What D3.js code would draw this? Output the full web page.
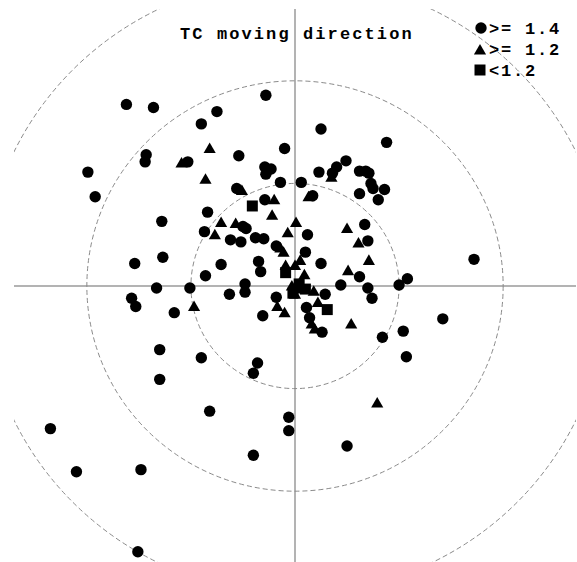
<!DOCTYPE html>
<html>
<head>
<meta charset="utf-8">
<script src="https://cdn.jsdelivr.net/npm/d3@7"></script>
<style>
  body { margin: 0; background: #fff; }
  text { font-family: "Liberation Mono", "DejaVu Sans Mono", monospace; fill: #000; }
</style>
</head>
<body>
<svg id="chart" width="577" height="562"></svg>
<script>
// Storm displacement (east, north) relative to the reference position,
// grouped by speed class.
const fastPts = [
  [-28, 186], [-162, 177], [-136, 174], [-75, 170], [-90, 158], [25, 153], [88, 140],
  [-10, 134], [-54, 127], [-143, 128], [-144, 121], [-103, 121], [49, 122], [40, 116],
  [23, 111], [-29, 116], [-23, 114], [-28, 109], [-199, 111], [62, 112], [68, 112],
  [71, 110], [36, 110], [-14, 101], [6, 101], [73, 100], [75, 95], [86, 94], [-192, 87],
  [-56, 95], [62, 90], [80, 84], [17, 88], [-29, 84], [-84, 72], [-128, 63], [-50, 58],
  [-47, 56], [67, 60], [-87, 53], [12, 50], [-62, 45], [-52, 43], [-38, 47], [-30, 46],
  [70, 44], [-18, 39], [10, 33], [25, 22], [172, 26], [-154, 22], [-127, 28], [-71, 21],
  [-35, 24], [-33, 14], [62, 9], [-86, 10], [108, 7], [100, 1], [44, 1], [70, -2],
  [74, -12], [-133, -2], [-101, -2], [-157, -12], [-153, -20], [-116, -26], [-63, -8],
  [-48, 2], [-48, -6], [-18, -11], [-31, -29], [29, -8], [11, -21], [14, -31], [26, -45],
  [142, -32], [84, -50], [104, -44], [107, -69], [-130, -62], [-90, -70], [-36, -75],
  [-40, -85], [-130, -91], [-82, -122], [-6, -128], [-6, -141], [50, -156], [-40, -165],
  [-235, -139], [-148, -179], [-210, -181], [-151, -259]
];
const mediumPts = [
  [-82, 133], [-109, 119], [-86, 103], [35, 105], [-51, 92], [13, 86], [-20, 83],
  [-22, 68], [-71, 61], [-57, 60], [1, 61], [50, 55], [-77, 49], [-7, 51], [61, 41],
  [-11, 32], [-14, 36], [71, 24], [5, 24], [0, 19], [-9, 19], [51, 14], [-97, -21],
  [-17, -21], [-10, -27], [9, 10], [-3, -1], [0, -9], [18, -6], [22, -17], [16, -38],
  [19, -43], [5, -4], [54, -38], [79, -115]
];
const slowPts = [
  [-41, 78], [31, -23], [-9, 13], [4, 2], [10, -3], [-2, -7]
];

const ringRadii = [100, 200, 300];
const legendLabels = [">= 1.4", ">= 1.2", "<1.2"];
const titleText = "TC moving direction";

const svg = d3.select("#chart");
const x = d3.scaleLinear().domain([-270, 270]).range([14, 576]);
const y = d3.scaleLinear().domain([-270, 270]).range([563, 9]);

svg.append("defs").append("clipPath").attr("id", "plotClip")
  .append("rect")
  .attr("x", x(-270)).attr("y", y(270))
  .attr("width", x(270) - x(-270)).attr("height", y(-270) - y(270));

const plot = svg.append("g").attr("clip-path", "url(#plotClip)");

// cross-hair axes through the origin
plot.append("line")
  .attr("x1", x(-270)).attr("x2", x(270))
  .attr("y1", y(0)).attr("y2", y(0))
  .attr("stroke", "#b3b3b3").attr("stroke-width", 2);
plot.append("line")
  .attr("x1", x(0)).attr("x2", x(0))
  .attr("y1", y(270)).attr("y2", y(-270))
  .attr("stroke", "#b3b3b3").attr("stroke-width", 2);

// dashed range rings
plot.selectAll("ellipse.ring").data(ringRadii).join("ellipse")
  .attr("class", "ring")
  .attr("cx", x(0)).attr("cy", y(0))
  .attr("rx", d => x(d) - x(0))
  .attr("ry", d => y(0) - y(d))
  .attr("fill", "none")
  .attr("stroke", "#8a8a8a")
  .attr("stroke-width", 1)
  .attr("stroke-dasharray", "5,3");

const circleSym = d3.symbol().type(d3.symbolCircle).size(Math.PI * 5.7 * 5.7);
const triSym = d3.symbol().type(d3.symbolTriangle).size(64);
const sqSym = d3.symbol().type(d3.symbolSquare).size(121);

const groups = [
  { pts: fastPts, sym: circleSym },
  { pts: mediumPts, sym: triSym },
  { pts: slowPts, sym: sqSym }
];

groups.forEach(g => {
  plot.append("g").selectAll("path").data(g.pts).join("path")
    .attr("d", g.sym())
    .attr("transform", d => `translate(${x(d[0])},${y(d[1])})`)
    .attr("fill", "#000");
});

// title
svg.append("text")
  .attr("x", 180).attr("y", 39)
  .attr("font-size", 17)
  .attr("font-weight", "bold")
  .attr("letter-spacing", 2.1)
  .text(titleText);

// legend
const legend = svg.append("g");
const legendSyms = [circleSym, triSym, sqSym];
legendLabels.forEach((lab, i) => {
  const ly = 28 + i * 21;
  legend.append("path")
    .attr("d", legendSyms[i]())
    .attr("transform", `translate(${481 - (i ? 1 : 0)},${ly + (i === 1 ? 2 : 0)})`)
    .attr("fill", "#000");
  legend.append("text")
    .attr("x", 489).attr("y", ly + 5.5)
    .attr("font-size", 17)
    .attr("font-weight", "bold")
    .attr("letter-spacing", 1.8)
    .text(lab);
});
</script>
</body>
</html>
